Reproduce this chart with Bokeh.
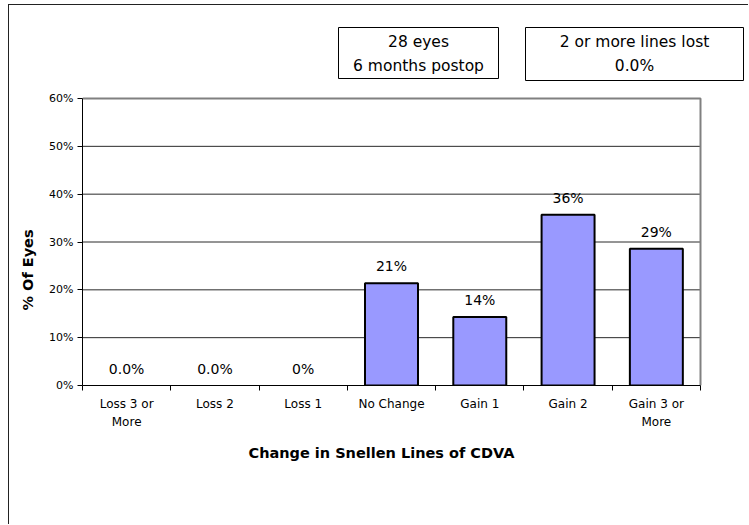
from bokeh.plotting import figure
from bokeh.models import Range1d, FixedTicker, Title
from bokeh.core.properties import value
from bokeh.embed import file_html
from bokeh.resources import INLINE

# ---- data ----
categories = ["Loss 3 or\nMore", "Loss 2", "Loss 1", "No Change", "Gain 1", "Gain 2", "Gain 3 or\nMore"]
percent_of_eyes = [0.0, 0.0, 0.0, 21.4, 14.3, 35.7, 28.6]
bar_labels = ["0.0%", "0.0%", "0%", "21%", "14%", "36%", "29%"]
y_ticks = [0, 10, 20, 30, 40, 50, 60]
y_tick_labels = ["0%", "10%", "20%", "30%", "40%", "50%", "60%"]
box1_lines = ["28 eyes", "6 months postop"]
box2_lines = ["2 or more lines lost", "0.0%"]
x_title = "Change in Snellen Lines of CDVA"
y_title = "% Of Eyes"

positions = list(range(1, len(categories) + 1))
boundaries = [p - 0.5 for p in positions] + [positions[-1] + 0.5]
bar_line_colors = ["black" if v > 0 else None for v in percent_of_eyes]
X_LO, X_HI = 0.5, len(categories) + 0.5
Y_LO, Y_HI = y_ticks[0], y_ticks[-1]

# ---- layout helpers (page pixel -> data units of the chart area) ----
AX_L, AX_R, AX_B, AX_T = 82, 700, 385, 98  # where the axes span on the page


def dx(px):
    return X_LO + (px - AX_L) * (X_HI - X_LO) / (AX_R - AX_L)


def dy(py):
    return Y_LO + (AX_B - py) * (Y_HI - Y_LO) / (AX_B - AX_T)


FONT = "DejaVu Sans"

p = figure(width=740, height=520, x_range=Range1d(X_LO, dx(747)),
           y_range=Range1d(Y_LO, dy(20)), output_backend="svg", toolbar_location=None,
           min_border_left=73, min_border_right=2, min_border_top=15, min_border_bottom=140)
p.styles = {"margin-left": "8px", "margin-top": "4px",
            "border-left": "1px solid #222", "border-top": "1px solid #222"}
p.background_fill_color = "white"
p.border_fill_color = "white"
p.outline_line_color = None
p.xgrid.visible = False
p.ygrid.visible = False

# y axis
p.yaxis.bounds = (Y_LO, Y_HI)
p.yaxis.ticker = FixedTicker(ticks=y_ticks)
p.yaxis.major_label_overrides = {t: l for t, l in zip(y_ticks, y_tick_labels)}
p.yaxis.major_tick_in = 0
p.yaxis.major_tick_out = 5
p.yaxis.minor_tick_line_color = None
p.yaxis.axis_line_color = "black"
p.yaxis.major_tick_line_color = "black"
p.yaxis.major_label_text_font = FONT
p.yaxis.major_label_text_font_size = "11px"
p.yaxis.major_label_text_color = "black"
p.yaxis.major_label_standoff = 4

# x axis
p.xaxis.bounds = (X_LO, X_HI)
p.xaxis.ticker = FixedTicker(ticks=positions, minor_ticks=boundaries)
p.xaxis.major_label_overrides = {t: c for t, c in zip(positions, categories)}
p.xaxis.major_tick_line_color = None
p.xaxis.major_tick_in = 0
p.xaxis.major_tick_out = 5
p.xaxis.minor_tick_in = 0
p.xaxis.minor_tick_out = 5
p.xaxis.minor_tick_line_color = "black"
p.xaxis.axis_line_color = "black"
p.xaxis.major_label_text_font = FONT
p.xaxis.major_label_text_font_size = "12px"
p.xaxis.major_label_text_color = "black"
p.xaxis.major_label_text_line_height = 1.3
p.xaxis.major_label_standoff = 6

# axis titles as side-panel titles (positioned along the axes only)
p.add_layout(Title(text=x_title, align="left", offset=166, standoff=26, vertical_align="top",
                   text_font=FONT, text_font_style="bold", text_font_size="14.5px",
                   text_color="black"), "below")
p.add_layout(Title(text=y_title, align="left", offset=75, standoff=17, vertical_align="top",
                   text_font=FONT, text_font_style="bold", text_font_size="14.5px",
                   text_color="black"), "left")

# gridlines and plot-area border (grey, top and right)
p.segment(x0=X_LO, x1=X_HI, y0=y_ticks[1:-1], y1=y_ticks[1:-1], line_color="#2a2a2a", line_width=1)
p.line(x=[X_LO, X_HI, X_HI], y=[Y_HI, Y_HI, Y_LO], line_color="#808080", line_width=2)

# bars
p.vbar(x=positions, top=percent_of_eyes, width=0.6, bottom=0,
       fill_color="#9999FF", line_color=bar_line_colors, line_width=2)

# value labels
p.text(x=positions, y=percent_of_eyes, text=bar_labels, text_align="center",
       text_baseline="bottom", y_offset=-9, text_font=value(FONT),
       text_font_size="14px", text_color="black")

# info boxes
p.quad(left=[dx(338), dx(525)], right=[dx(498), dx(743)],
       top=[dy(27), dy(27)], bottom=[dy(78), dy(80)],
       fill_color="white", line_color="black", line_width=1)
p.text(x=[dx(418)] * 2, y=[dy(41), dy(65)], text=box1_lines, text_align="center",
       text_baseline="middle", text_font=value(FONT), text_font_size="15.5px",
       text_color="black")
p.text(x=[dx(634)] * 2, y=[dy(41), dy(65)], text=box2_lines, text_align="center",
       text_baseline="middle", text_font=value(FONT), text_font_size="15.5px",
       text_color="black")

open("out.html", "w").write(file_html(p, INLINE))
